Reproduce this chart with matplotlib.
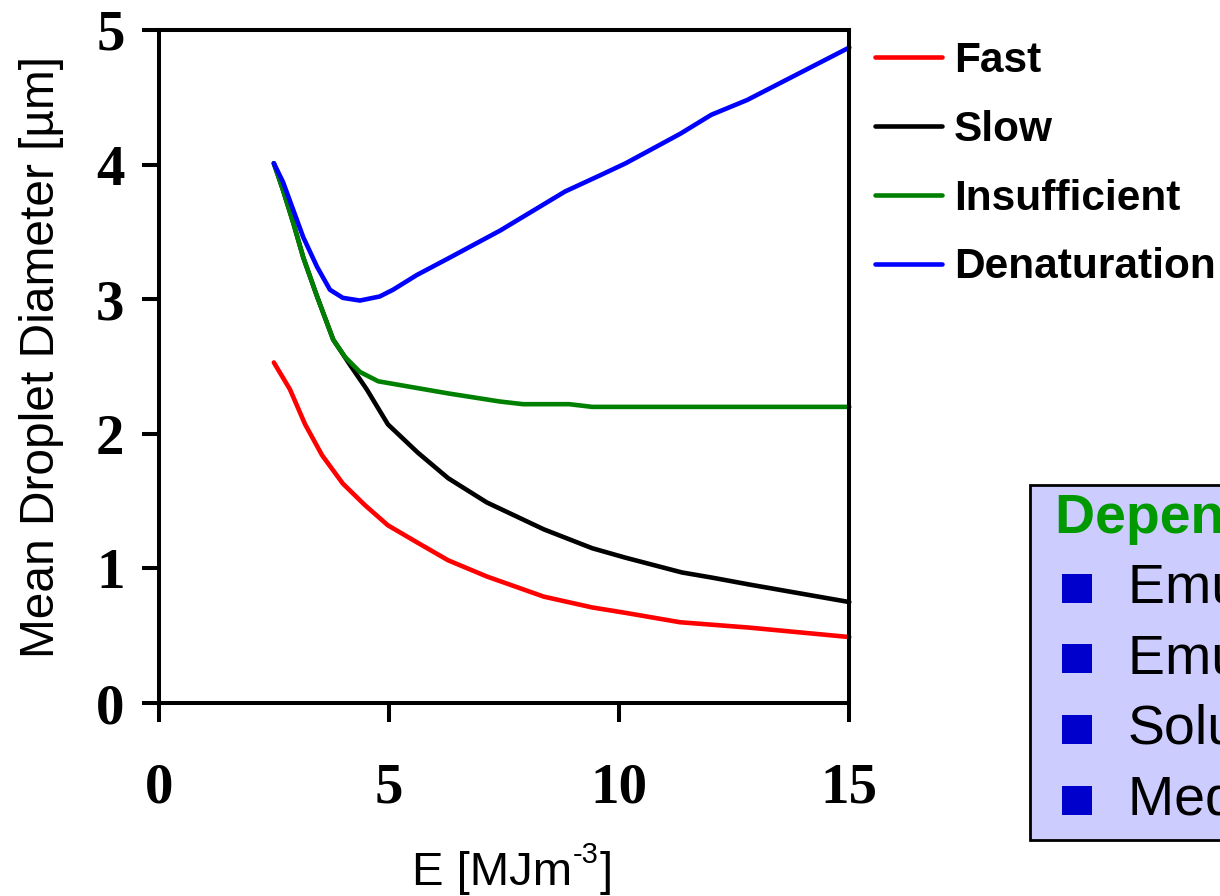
import matplotlib
matplotlib.use("Agg")
import matplotlib.pyplot as plt
from matplotlib.patches import Rectangle

# ---- data ----
fast_x = [2.49, 2.84, 3.17, 3.54, 3.99, 4.47, 4.97, 5.62, 6.28, 7.12, 8.36, 9.41, 10.13, 11.32, 12.83, 15.0]
fast_y = [2.53, 2.33, 2.07, 1.84, 1.63, 1.47, 1.32, 1.19, 1.06, 0.94, 0.79, 0.71, 0.67, 0.60, 0.56, 0.49]

slow_x = [2.49, 2.69, 2.91, 3.13, 3.43, 3.78, 4.15, 4.51, 4.97, 5.62, 6.28, 7.12, 8.36, 9.41, 10.13, 11.36, 12.04, 12.83, 15.0]
slow_y = [4.01, 3.81, 3.57, 3.31, 3.02, 2.70, 2.51, 2.33, 2.07, 1.86, 1.67, 1.49, 1.29, 1.15, 1.08, 0.97, 0.93, 0.88, 0.75]

insuf_x = [2.49, 2.69, 2.91, 3.13, 3.43, 3.78, 4.04, 4.36, 4.76, 6.28, 7.40, 7.91, 8.91, 9.41, 15.0]
insuf_y = [4.01, 3.81, 3.57, 3.31, 3.02, 2.70, 2.57, 2.46, 2.39, 2.30, 2.24, 2.22, 2.22, 2.20, 2.20]

denat_x = [2.49, 2.69, 3.13, 3.43, 3.71, 3.99, 4.36, 4.79, 5.08, 5.60, 6.32, 7.41, 8.82, 9.58, 10.14, 11.33, 12.00, 12.78, 15.0]
denat_y = [4.01, 3.87, 3.46, 3.24, 3.07, 3.01, 2.99, 3.02, 3.07, 3.18, 3.31, 3.51, 3.80, 3.92, 4.01, 4.23, 4.37, 4.48, 4.87]

series_labels = ["Fast", "Slow", "Insufficient", "Denaturation"]
series_colors = ["#ff0000", "#000000", "#008000", "#0000ff"]

x_ticks = [0, 5, 10, 15]
y_ticks = [0, 1, 2, 3, 4, 5]

y_label = "Mean Droplet Diameter [\u00b5m]"
x_label_main = "E [MJm"
x_label_sup = "-3"
x_label_end = "]"

box_title = "Dependence on:"
box_items = ["Emulsifier type", "Emulsifier concentration", "Solubility", "Medium viscosity"]

# ---- figure ----
W, H = 1220, 896
fig = plt.figure(figsize=(W / 100, H / 100), dpi=100)


def fx(px):
    return px / W


def fy(py):
    return 1 - py / H


ax_l, ax_r, ax_t, ax_b = 159.3, 849.3, 30, 703
ax = fig.add_axes([fx(ax_l), fy(ax_b), (ax_r - ax_l) / W, (ax_b - ax_t) / H])

data = [(fast_x, fast_y), (slow_x, slow_y), (insuf_x, insuf_y), (denat_x, denat_y)]
handles = []
for (xs, ys), lab, col in zip(data, series_labels, series_colors):
    h, = ax.plot(xs, ys, color=col, lw=3.3, label=lab, solid_capstyle='round',
                 solid_joinstyle='round', clip_on=False)
    handles.append(h)

ax.set_xlim(0, 15)
ax.set_ylim(0, 5)
ax.set_xticks(x_ticks)
ax.set_yticks(y_ticks)
for s in ax.spines.values():
    s.set_linewidth(2.9)

tick_font = dict(family="Liberation Serif", weight="bold", size=41)
ax.tick_params(axis='x', direction='out', length=13.7, width=2.9, pad=29)
ax.tick_params(axis='y', direction='out', length=12, width=2.9, pad=13)
ax.set_xticklabels([str(v) for v in x_ticks], fontdict=tick_font)
ax.set_yticklabels([str(v) for v in y_ticks], fontdict=tick_font)

fig.text(fx(42), fy(357), y_label, rotation=90,
         ha='center', va='center', fontsize=34.5, family="Liberation Sans")

# x label with hyphen superscript
xl_font = dict(family="Liberation Sans")
t1 = fig.text(fx(412), fy(885), x_label_main, ha='left', va='baseline', fontsize=34, **xl_font)
fig.canvas.draw()
r = fig.canvas.get_renderer()
e1 = t1.get_window_extent(r)
t2 = fig.text(e1.x1 / W + 1 / W, fy(863), x_label_sup, ha='left', va='baseline', fontsize=21, **xl_font)
e2 = t2.get_window_extent(r)
fig.text(e2.x1 / W + 1 / W, fy(885), x_label_end, ha='left', va='baseline', fontsize=34, **xl_font)

leg = fig.legend(handles=handles, labels=series_labels, loc='upper left',
                 bbox_to_anchor=(fx(875), fy(41)), bbox_transform=fig.transFigure,
                 frameon=False, borderpad=0, borderaxespad=0,
                 handlelength=1.58, handletextpad=0.28, labelspacing=0.68,
                 prop=dict(family="Liberation Sans", weight="bold", size=30.5))
for lh in leg.get_lines():
    lh.set_linewidth(3.3)

# ---- text box ----
fig.patches.append(Rectangle((fx(1030), fy(840)), fx(300), (840 - 485) / H,
                             transform=fig.transFigure, facecolor="#ccccff",
                             edgecolor="black", lw=2, zorder=0))
fig.text(fx(1055), fy(533), box_title, color="#009900", weight="bold",
         fontsize=40, family="Liberation Sans", ha='left', va='baseline')
baselines = [603, 673, 744, 815]
for py, item in zip(baselines, box_items):
    fig.patches.append(Rectangle((fx(1062), fy(py)), fx(30), 29 / H,
                                 transform=fig.transFigure, facecolor="#0000cc",
                                 edgecolor="none", zorder=1))
    fig.text(fx(1128), fy(py), item, color="black", fontsize=40,
             family="Liberation Sans", ha='left', va='baseline')

fig.savefig("out.png", dpi=100)
